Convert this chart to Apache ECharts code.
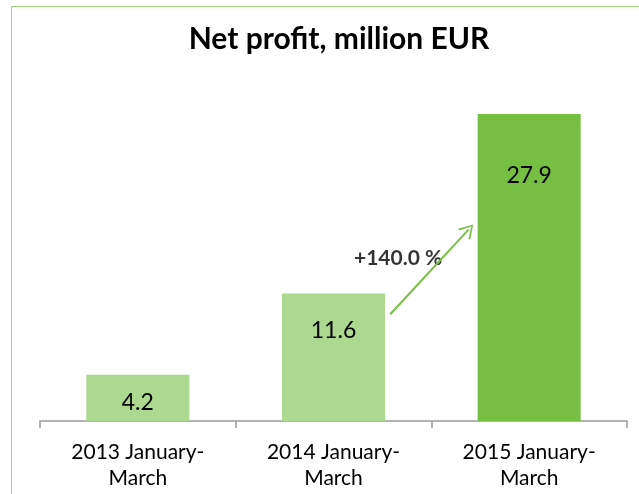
<!DOCTYPE html>
<html lang="en">
<head>
  <meta charset="UTF-8">
  <title>Net profit</title>
  <script src="https://cdn.jsdelivr.net/npm/echarts@6/dist/echarts.min.js"></script>
  <style>
    html, body { margin: 0; padding: 0; background: #fff; }
    #main { width: 639px; height: 494px; }
  </style>
</head>
<body>
  <div id="main"></div>
<script type="text/javascript">
  // data
  var categories = ['2013 January-\nMarch', '2014 January-\nMarch', '2015 January-\nMarch'];
  var profit = [4.2, 11.6, 27.9];
  var growthText = '+140.0 %';

  var barColors = ['#acd98f', '#acd98f', '#76bf43'];
  var labelGaps = [16, 26, 50]; // how far the value sits below the bar top

  var chart = echarts.init(document.getElementById('main'));
  var font = 'Lato, "Open Sans", sans-serif';

  chart.setOption({
    animation: false,
    title: {
      text: 'Net profit, million EUR',
      left: 334,
      textAlign: 'center',
      top: 19,
      textStyle: { fontFamily: font, fontWeight: 'bold', fontSize: 30, color: '#000' }
    },
    graphic: [{
      type: 'rect',
      shape: { x: 11.5, y: 6.5, width: 700, height: 600 },
      style: { fill: 'none', stroke: '#9dd37f', lineWidth: 1 },
      silent: true
    }],
    grid: { left: 40, right: 12, top: 91, bottom: 73 },
    xAxis: [{
      type: 'category',
      data: categories,
      axisLine: { lineStyle: { color: '#9a9a9a', width: 1.5 } },
      axisTick: { show: true, length: 7, lineStyle: { color: '#9a9a9a', width: 1.5 } },
      axisLabel: {
        color: '#000', fontFamily: font, fontSize: 21, lineHeight: 26, margin: 18
      }
    }, {
      type: 'value', min: 0, max: 3, show: false
    }],
    yAxis: { type: 'value', min: 0, max: 30, show: false },
    series: [{
      type: 'bar',
      barWidth: 103,
      data: profit.map(function (v, i) {
        return {
          value: v,
          itemStyle: { color: barColors[i] },
          label: { distance: labelGaps[i] }
        };
      }),
      label: {
        show: true,
        position: 'insideTop',
        color: '#000',
        fontFamily: font,
        fontSize: 23
      }
    }, {
      type: 'scatter',
      xAxisIndex: 1,
      symbolSize: 0,
      data: [[1.83, 14.8]],
      label: {
        show: true,
        formatter: growthText,
        position: 'inside',
        color: '#000',
        fontFamily: font,
        fontWeight: 'bold',
        fontSize: 21
      },
      markLine: {
        silent: true,
        symbol: ['none', 'path://M0,10 L5,0 L10,10 L9,10.6 L5,2.2 L1,10.6 Z'],
        symbolSize: [16, 14],
        label: { show: false },
        lineStyle: { color: '#76bf43', width: 2, type: 'solid' },
        itemStyle: { color: '#76bf43' },
        data: [[{ coord: [1.79, 9.7] }, { coord: [2.19, 17.4] }]]
      }
    }]
  });
</script>
</body>
</html>
